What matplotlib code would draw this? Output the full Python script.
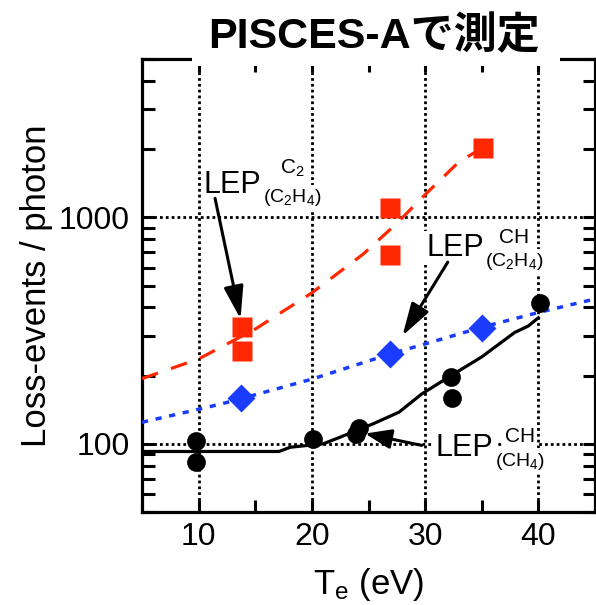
import matplotlib
matplotlib.use("Agg")
import matplotlib.pyplot as plt
from matplotlib.patches import Rectangle
from matplotlib.ticker import FixedLocator, LogLocator, NullFormatter, FixedFormatter

plt.rcParams['font.family'] = ['Liberation Sans', 'Noto Sans CJK JP']
plt.rcParams['mathtext.fontset'] = 'custom'
plt.rcParams['mathtext.rm'] = 'Liberation Sans'
plt.rcParams['mathtext.it'] = 'Liberation Sans:italic'
plt.rcParams['mathtext.bf'] = 'Liberation Sans:bold'

# ---- data ----
# LEP C2 from C2H4 (red squares) and model curve
te_c2 = [13.8, 13.8, 26.9, 26.9, 35.1]
lep_c2 = [328, 257, 1095, 681, 2030]
te_c2_fit = [5, 10, 15, 20, 24.5, 27.4, 30, 33, 35.1]
lep_c2_fit = [194, 237, 321, 464, 686, 930, 1260, 1760, 2030]

# LEP CH from C2H4 (blue diamonds) and model curve
te_chc = [13.7, 26.9, 35.0]
lep_chc = [160, 249, 326]
te_chc_fit = [5, 8.9, 12, 13.7, 20, 27, 30, 35, 40, 45]
lep_chc_fit = [124.5, 138, 150, 158, 193, 250, 276, 327, 380, 436]

# LEP CH from CH4 (black circles) and model curve
te_ch4 = [9.8, 9.8, 20.1, 23.9, 24.2, 32.3, 32.4, 40.1]
lep_ch4 = [103, 83, 105, 111, 117, 198, 160, 420]
te_ch4_fit = [5, 17.1, 18.1, 21, 22.5, 25.4, 27.7, 29.7, 32.5, 35, 37.9, 39.1, 40]
lep_ch4_fit = [92.5, 92.5, 96.6, 100, 107, 122.5, 138, 166, 203, 242, 310, 331, 360]

x_major = [10, 20, 30, 40]
x_minor = [15, 25, 35]
y_major = [100, 1000]
y_major_labels = ['100', '1000']

title = 'PISCES-Aで測定'
xlabel = r'$\mathrm{T}_{\mathrm{e}}$ (eV)'
ylabel = 'Loss-events / photon'

RED = '#FF2800'
BLUE = '#1A3CFF'

fig = plt.figure(figsize=(5.96, 6.05), dpi=100)
ax = fig.add_axes([142/596, 1-512/605, (595-142)/596, (512-59)/605])
ax.set_yscale('log')
ax.set_xlim(5, 45)
ax.set_ylim(50, 5000)

# grid
for xv in x_major:
    ax.axvline(xv, color='k', lw=2.0, ls=(0, (1, 1.1)), zorder=1)
for yv in y_major:
    ax.axhline(yv, color='k', lw=2.0, ls=(0, (1, 1.1)), zorder=1)

# curves
ax.plot(te_c2_fit, lep_c2_fit, color=RED, lw=2.3, ls=(0, (5.3, 4.3)), zorder=3)
ax.plot(te_chc_fit, lep_chc_fit, color=BLUE, lw=2.5, ls=(0, (1.8, 2.2)), zorder=3)
ax.plot(te_ch4_fit, lep_ch4_fit, color='k', lw=2.3, zorder=3)

# markers
ax.plot(te_c2, lep_c2, ls='none', marker='s', ms=14, color=RED, mec='none', zorder=4)
ax.plot(te_chc, lep_chc, ls='none', marker='D', ms=14, color=BLUE, mec='none', zorder=4)
ax.plot(te_ch4, lep_ch4, ls='none', marker='o', ms=13.5, color='k', mec='none', zorder=5)


def lep_label(x, y, sup, sub, sup_dy, sub_dy):
    items = []
    for visible in (False, True):
        kw = dict(zorder=7 if visible else 6, color='k' if visible else 'none')
        if not visible:
            kw['bbox'] = dict(facecolor='white', edgecolor='none', pad=1.5)
        ax.annotate('LEP', xy=(x, y), xytext=(0, 0), textcoords='offset points',
                    fontsize=22, ha='left', va='baseline', **kw)
        t2 = ax.annotate(sub, xy=(x, y), xytext=(42.3, -sub_dy), textcoords='offset points',
                         fontsize=14, ha='left', va='baseline', **kw)
        t3 = ax.annotate(sup, xy=(x, y), xytext=(42.3, sup_dy), textcoords='offset points',
                         fontsize=15, ha='center', va='baseline', **kw)
        items.append((t2, t3))
    return items


labels = []
labels += lep_label(10.47, 1276, r'$\mathrm{C_2}$', r'$\mathrm{(C_2H_4)}$', 14.0, 6.5)
labels += lep_label(30.08, 673, 'CH', r'$\mathrm{(C_2H_4)}$', 9.6, 7.2)
labels += lep_label(30.95, 88.8, 'CH', r'$\mathrm{(CH_4)}$', 9.6, 7.2)

aprops = dict(arrowstyle='-|>,head_length=1.0,head_width=0.3', color='k', lw=2.2,
              mutation_scale=20, shrinkA=0, shrinkB=0)
ax.annotate('', xy=(13.7, 356), xytext=(11.45, 1213), arrowprops=aprops, zorder=6)
ax.annotate('', xy=(28.0, 300), xytext=(32.0, 634), arrowprops=aprops, zorder=6)
ax.annotate('', xy=(24.7, 111), xytext=(29.7, 98.4),
            arrowprops=dict(aprops, arrowstyle='-|>,head_length=0.8,head_width=0.3'), zorder=6)

# ticks
ax.xaxis.set_major_locator(FixedLocator(x_major))
ax.xaxis.set_minor_locator(FixedLocator(x_minor))
ax.yaxis.set_major_locator(FixedLocator(y_major))
ax.yaxis.set_major_formatter(FixedFormatter(y_major_labels))
ax.yaxis.set_minor_locator(LogLocator(base=10, subs=[2, 3, 4, 5, 6, 7, 8, 9]))
ax.yaxis.set_minor_formatter(NullFormatter())
ax.tick_params(which='both', direction='in', top=True, right=True, width=2.2, length=9,
               labelsize=23)
ax.tick_params(axis='x', pad=7)
ax.tick_params(axis='y', pad=9)
for sp in ax.spines.values():
    sp.set_linewidth(2.3)

ax.set_xlabel(xlabel, fontsize=25, labelpad=10)
ax.set_ylabel(ylabel, fontsize=25, labelpad=4)

# title with white background over top spine
fig.patches.append(Rectangle((192/596, 1-66/605), (560-192)/596, 14/605,
                             transform=fig.transFigure, facecolor='white',
                             edgecolor='none', zorder=2))
fig.text(374/596, 1-48/605, title, ha='center', va='baseline', fontsize=31,
         fontweight='bold', zorder=3)

# centre the superscripts over the subscripts
fig.canvas.draw()
r = fig.canvas.get_renderer()
for t2, t3 in labels:
    w = t2.get_window_extent(r).width * 72 / fig.dpi
    t3.set_position((42.3 + w / 2, t3.get_position()[1]))

fig.savefig('out.png', dpi=100)
